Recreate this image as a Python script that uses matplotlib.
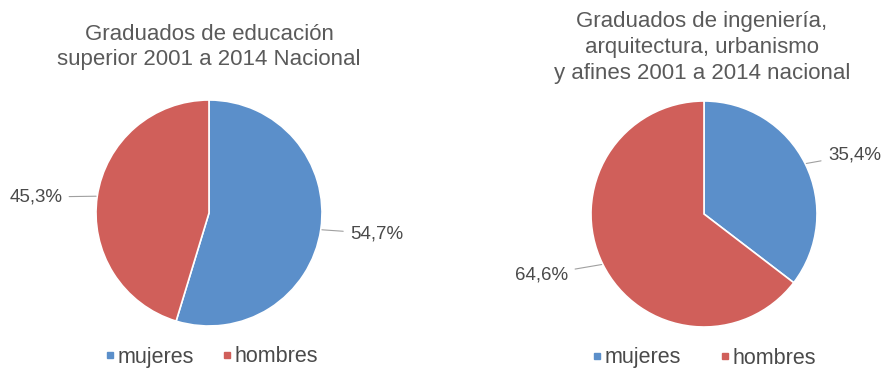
import numpy as np
import matplotlib
matplotlib.use("Agg")
import matplotlib.pyplot as plt
from matplotlib.lines import Line2D

plt.rcParams['font.family'] = ['Liberation Sans', 'DejaVu Sans']

categories = ["mujeres", "hombres"]
titles = [
    "Graduados de educación\nsuperior 2001 a 2014 Nacional",
    "Graduados de ingeniería,\narquitectura, urbanismo\ny afines 2001 a 2014 nacional",
]
shares = [
    [54.7, 45.3],
    [35.4, 64.6],
]
label_text = [
    ["54,7%", "45,3%"],
    ["35,4%", "64,6%"],
]

colors = ["#5b8fca", "#d05f5a"]
text_color = "#4a4a4a"
title_color = "#5a5a5a"

W, H = 885, 374
fig = plt.figure(figsize=(W / 100, H / 100), dpi=100)
fig.patch.set_facecolor("white")

centers = [(209, 213), (704, 214)]
radius_px = 113

# label offsets (data units, relative to wedge edge point)
label_offsets = [
    [(0.26, -0.035), (-0.31, -0.006)],
    [(0.20, 0.08), (-0.305, -0.095)],
]
title_pos = [(209, 47), (702, 47.5)]
legend_pos = [(211, 357), (704, 358)]
legend_colspacing = [1.3, 1.8]

for i, (cx, cy) in enumerate(centers):
    ax = fig.add_axes([(cx - radius_px) / W, (H - cy - radius_px) / H,
                       2 * radius_px / W, 2 * radius_px / H])
    wedges, _ = ax.pie(shares[i], colors=colors, startangle=90, counterclock=False,
                       radius=1.0,
                       wedgeprops=dict(edgecolor="white", linewidth=1.2))
    ax.set_xlim(-1, 1)
    ax.set_ylim(-1, 1)
    ax.set_aspect("equal")
    ax.axis("off")

    for j, w in enumerate(wedges):
        ang = np.deg2rad((w.theta1 + w.theta2) / 2)
        x, y = np.cos(ang), np.sin(ang)
        dx, dy = label_offsets[i][j]
        ha = "left" if x > 0 else "right"
        ax.annotate(label_text[i][j], xy=(x * 1.01, y * 1.01),
                    xytext=(x + dx, y + dy), textcoords="data",
                    ha=ha, va="center", fontsize=13.5, color=text_color,
                    annotation_clip=False,
                    arrowprops=dict(arrowstyle="-", color="#a0a0a0", lw=0.8,
                                    shrinkA=3, shrinkB=0))

    tx, ty = title_pos[i]
    fig.text(tx / W, 1 - ty / H, titles[i], ha="center", va="center",
             fontsize=16, color=title_color, linespacing=1.3)

    handles = [Line2D([], [], marker="s", linestyle="none", markersize=4,
                      markerfacecolor=c, markeredgecolor=c) for c in colors]
    lx, ly = legend_pos[i]
    fig.legend(handles, categories, loc="center", bbox_to_anchor=(lx / W, 1 - ly / H),
               ncol=2, frameon=False, fontsize=15.5, handlelength=0.5,
               handletextpad=0.1, columnspacing=legend_colspacing[i],
               labelcolor=text_color)

fig.savefig("out.png", dpi=100, facecolor="white")
